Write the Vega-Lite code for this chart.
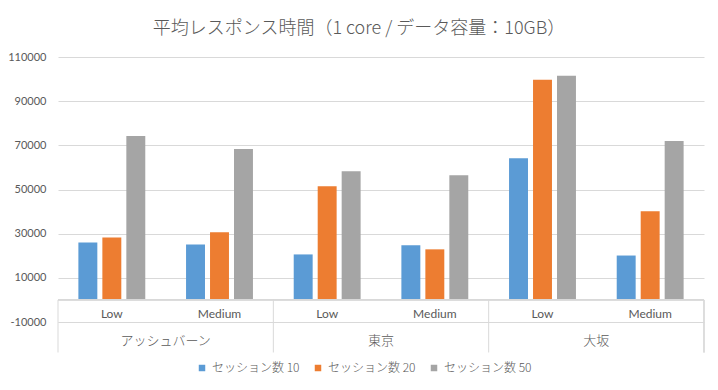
{
  "$schema": "https://vega.github.io/schema/vega-lite/v6.json",
  "width": 646,
  "height": 265,
  "autosize": {"type": "none"},
  "padding": {"left": 58, "top": 57, "right": 14, "bottom": 68},
  "background": "white",
  "config": {"view": {"stroke": null}},
  "title": {
    "text": "平均レスポンス時間（1 core / データ容量：10GB）",
    "font": "Noto Sans CJK JP",
    "fontSize": 18,
    "fontWeight": 300,
    "color": "#595959",
    "anchor": "middle",
    "dx": -22,
    "offset": 13
  },
  "datasets": {
    "bars": [
      {"k": "アッシュバーン|Low", "series": "セッション数 10", "value": 26000},
      {"k": "アッシュバーン|Low", "series": "セッション数 20", "value": 28300},
      {"k": "アッシュバーン|Low", "series": "セッション数 50", "value": 74200},
      {"k": "アッシュバーン|Medium", "series": "セッション数 10", "value": 25100},
      {"k": "アッシュバーン|Medium", "series": "セッション数 20", "value": 30600},
      {"k": "アッシュバーン|Medium", "series": "セッション数 50", "value": 68300},
      {"k": "東京|Low", "series": "セッション数 10", "value": 20600},
      {"k": "東京|Low", "series": "セッション数 20", "value": 51500},
      {"k": "東京|Low", "series": "セッション数 50", "value": 58300},
      {"k": "東京|Medium", "series": "セッション数 10", "value": 24700},
      {"k": "東京|Medium", "series": "セッション数 20", "value": 22900},
      {"k": "東京|Medium", "series": "セッション数 50", "value": 56500},
      {"k": "大坂|Low", "series": "セッション数 10", "value": 64200},
      {"k": "大坂|Low", "series": "セッション数 20", "value": 99700},
      {"k": "大坂|Low", "series": "セッション数 50", "value": 101500},
      {"k": "大坂|Medium", "series": "セッション数 10", "value": 20100},
      {"k": "大坂|Medium", "series": "セッション数 20", "value": 40100},
      {"k": "大坂|Medium", "series": "セッション数 50", "value": 72000}
    ],
    "cats": [
      {"k": "アッシュバーン|Low", "level": "Low"},
      {"k": "アッシュバーン|Medium", "level": "Medium"},
      {"k": "東京|Low", "level": "Low"},
      {"k": "東京|Medium", "level": "Medium"},
      {"k": "大坂|Low", "level": "Low"},
      {"k": "大坂|Medium", "level": "Medium"}
    ],
    "edges": [
      {"k": "アッシュバーン|Low"},
      {"k": "東京|Low"},
      {"k": "大坂|Low"}
    ]
  },
  "layer": [
    {
      "data": {"name": "bars"},
      "mark": {"type": "bar"},
      "encoding": {
        "x": {
          "field": "k",
          "type": "nominal",
          "scale": {
            "domain": ["アッシュバーン|Low", "アッシュバーン|Medium", "東京|Low", "東京|Medium", "大坂|Low", "大坂|Medium"],
            "paddingInner": 0,
            "paddingOuter": 0
          },
          "axis": {
            "values": ["アッシュバーン|Low", "東京|Low", "大坂|Low"],
            "labelExpr": "split(datum.value, '|')[0]",
            "labelOffset": 53.83,
            "title": null,
            "ticks": false,
            "tickSize": 0,
            "domainColor": "#d9d9d9",
            "labelFont": "Noto Sans CJK JP",
            "labelFontSize": 13,
            "labelFontWeight": 300,
            "labelColor": "#595959",
            "labelPadding": 18,
            "labelBaseline": "middle",
            "labelAngle": 0
          }
        },
        "xOffset": {
          "field": "series",
          "type": "nominal",
          "scale": {
            "domain": ["セッション数 10", "セッション数 20", "セッション数 50"],
            "paddingInner": 0.21,
            "paddingOuter": 0.85
          }
        },
        "y": {
          "field": "value",
          "type": "quantitative",
          "scale": {"domain": [-10000, 110000], "nice": false, "zero": true},
          "axis": {
            "values": [-10000, 10000, 30000, 50000, 70000, 90000, 110000],
            "labelExpr": "datum.value < 0 ? '-' + format(-datum.value, 'd') : format(datum.value, 'd')",
            "title": null,
            "domain": false,
            "ticks": false,
            "grid": true,
            "gridColor": "#d9d9d9",
            "labelPadding": 12,
            "labelFont": "Lato",
            "labelFontSize": 11,
            "labelColor": "#595959"
          }
        },
        "color": {
          "field": "series",
          "type": "nominal",
          "scale": {
            "domain": ["セッション数 10", "セッション数 20", "セッション数 50"],
            "range": ["#5B9BD5", "#ED7D31", "#A5A5A5"]
          },
          "legend": {
            "orient": "none",
            "legendX": 138,
            "legendY": 305,
            "direction": "horizontal",
            "title": null,
            "symbolType": "square",
            "symbolSize": 42,
            "labelFont": "Noto Sans CJK JP",
            "labelFontSize": 12,
            "labelFontWeight": 300,
            "labelColor": "#595959",
            "columnPadding": 12,
            "labelOffset": 4
          }
        }
      }
    },
    {
      "data": {"name": "cats"},
      "mark": {"type": "text", "font": "Lato", "fontSize": 12, "color": "#595959", "baseline": "middle", "align": "center"},
      "encoding": {
        "x": {"field": "k", "type": "nominal"},
        "y": {"datum": -6500},
        "text": {"field": "level"}
      }
    },
    {
      "data": {"name": "cats"},
      "mark": {"type": "rule", "color": "#d9d9d9", "strokeWidth": 1},
      "encoding": {
        "y": {"datum": 0}
      }
    },
    {
      "data": {"name": "edges"},
      "mark": {"type": "rule", "color": "#d9d9d9", "strokeWidth": 1},
      "encoding": {
        "x": {"field": "k", "type": "nominal", "bandPosition": 0},
        "y": {"datum": 0},
        "y2": {"datum": -23800}
      }
    },
    {
      "data": {"name": "edges"},
      "mark": {"type": "rule", "color": "#d9d9d9", "strokeWidth": 1},
      "encoding": {
        "x": {"datum": "大坂|Medium", "type": "nominal", "bandPosition": 1},
        "y": {"datum": 0},
        "y2": {"datum": -23800}
      }
    }
  ]
}
